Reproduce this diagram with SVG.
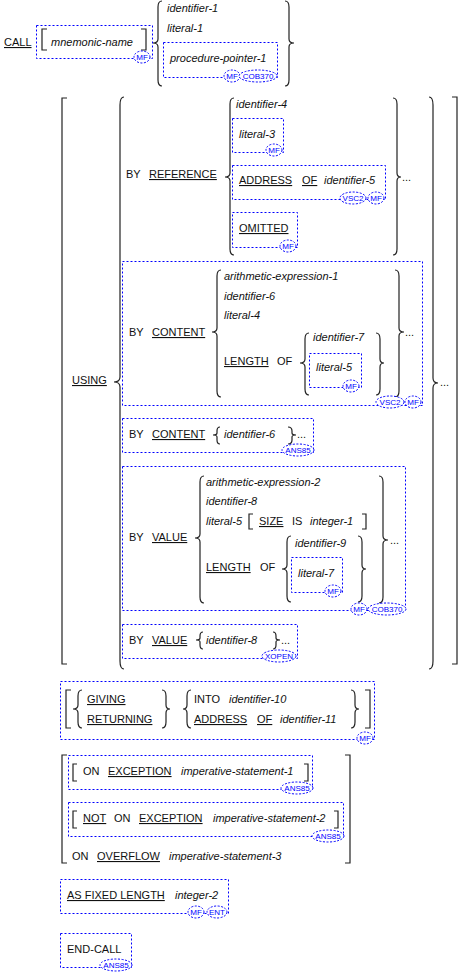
<svg xmlns="http://www.w3.org/2000/svg" width="460" height="974" viewBox="0 0 460 974">
<style>
text{font-family:"Liberation Sans",Arial,sans-serif;font-size:11px;fill:#111}
.i{font-style:italic}
.u{text-decoration:underline}
.box{fill:none;stroke:#0000ff;stroke-width:1;stroke-dasharray:2,2}
.tag{fill:#fff;stroke:#0000ff;stroke-width:1;stroke-dasharray:2,1.5}
.tt{font-size:8px;fill:#0000ff;text-anchor:middle}
.br{fill:none;stroke:#222;stroke-width:1.2}
</style>
<rect width="460" height="974" fill="#fff"/>

<g id="brackets">
<path class="br" d="M162 1 Q158 1 158 7 L158 39 Q158 43 153 43 Q158 43 158 47 L158 80 Q158 86 162 86"/>
<path class="br" d="M285 1 Q289 1 289 7 L289 39 Q289 43 294 43 Q289 43 289 47 L289 80 Q289 86 285 86"/>
<path class="br" d="M47 29 H42 V50 H47"/>
<path class="br" d="M141 29 H146 V50 H141"/>
<path class="br" d="M67 98 H62 V664 H67"/>
<path class="br" d="M452 97 H457 V664 H452"/>
<path class="br" d="M124 97 Q120 97 120 105 L120 377 Q120 382 114 382 Q120 382 120 387 L120 661 Q120 669 124 669"/>
<path class="br" d="M429 97 Q433 97 433 105 L433 378 Q433 383 438 383 Q433 383 433 388 L433 661 Q433 669 429 669"/>
<path class="br" d="M234 98 Q230 98 230 104 L230 173 Q230 177 225 177 Q230 177 230 181 L230 249 Q230 255 234 255"/>
<path class="br" d="M393 98 Q397 98 397 104 L397 173 Q397 177 401 177 Q397 177 397 181 L397 249 Q397 255 393 255"/>
<path class="br" d="M221 270 Q217 270 217 276 L217 328 Q217 332 212 332 Q217 332 217 336 L217 391 Q217 397 221 397"/>
<path class="br" d="M395 270 Q399 270 399 276 L399 328 Q399 332 404 332 Q399 332 399 336 L399 391 Q399 397 395 397"/>
<path class="br" d="M309 333 Q305 333 305 339 L305 359 Q305 363 300 363 Q305 363 305 367 L305 389 Q305 395 309 395"/>
<path class="br" d="M376 333 Q380 333 380 339 L380 359 Q380 363 384 363 Q380 363 380 367 L380 389 Q380 395 376 395"/>
<path class="br" d="M220 427 Q217 427 217 431 L217 433 Q217 435 213 435 Q217 435 217 437 L217 440 Q217 444 220 444"/>
<path class="br" d="M288 427 Q292 427 292 431 L292 433 Q292 435 296 435 Q292 435 292 437 L292 440 Q292 444 288 444"/>
<path class="br" d="M204 476 Q200 476 200 482 L200 534 Q200 538 195 538 Q200 538 200 542 L200 597 Q200 603 204 603"/>
<path class="br" d="M379 476 Q383 476 383 482 L383 536 Q383 540 388 540 Q383 540 383 544 L383 597 Q383 603 379 603"/>
<path class="br" d="M291 536 Q287 536 287 542 L287 565 Q287 569 282 569 Q287 569 287 573 L287 596 Q287 602 291 602"/>
<path class="br" d="M358 536 Q362 536 362 542 L362 565 Q362 569 366 569 Q362 569 362 573 L362 596 Q362 602 358 602"/>
<path class="br" d="M253 514 H249 V529 H253"/>
<path class="br" d="M362 514 H366 V529 H362"/>
<path class="br" d="M203 632 Q200 632 200 636 L200 638 Q200 640 196 640 Q200 640 200 642 L200 645 Q200 649 203 649"/>
<path class="br" d="M273 632 Q276 632 276 636 L276 638 Q276 640 280 640 Q276 640 276 642 L276 645 Q276 649 273 649"/>
<path class="br" d="M71 690 H66 V728 H71"/>
<path class="br" d="M82 690 Q78 690 78 696 L78 705 Q78 709 73 709 Q78 709 78 713 L78 722 Q78 728 82 728"/>
<path class="br" d="M162 690 Q166 690 166 696 L166 705 Q166 709 170 709 Q166 709 166 713 L166 722 Q166 728 162 728"/>
<path class="br" d="M191 690 Q187 690 187 696 L187 705 Q187 709 183 709 Q187 709 187 713 L187 722 Q187 728 191 728"/>
<path class="br" d="M351 690 Q355 690 355 696 L355 705 Q355 709 359 709 Q355 709 355 713 L355 722 Q355 728 351 728"/>
<path class="br" d="M365 690 H370 V728 H365"/>
<path class="br" d="M67 755 H62 V863 H67"/>
<path class="br" d="M345 755 H350 V863 H345"/>
<path class="br" d="M77 764 H73 V781 H77"/>
<path class="br" d="M304 764 H308 V781 H304"/>
<path class="br" d="M77 811 H73 V828 H77"/>
<path class="br" d="M334 811 H338 V828 H334"/>
</g>

<g id="call">
<text x="4" y="46" class="u">CALL</text>
<text x="167" y="12" class="i">identifier-1</text>
<text x="167" y="32" class="i">literal-1</text>
</g>
<g id="mnemonic">
<rect class="box" x="36.5" y="25.5" width="116" height="33"/>
<text x="51" y="46" class="i">mnemonic-name</text>
<ellipse class="tag" cx="142" cy="57" rx="8" ry="6"/><text class="tt" x="142" y="60">MF</text>
</g>
<g id="procptr">
<rect class="box" x="163.5" y="42.5" width="114" height="35"/>
<text x="170" y="62" class="i">procedure-pointer-1</text>
<ellipse class="tag" cx="232" cy="76" rx="8" ry="6"/><text class="tt" x="232" y="79">MF</text>
<ellipse class="tag" cx="258" cy="76" rx="19" ry="6"/><text class="tt" x="258" y="79">COB370</text>
</g>

<g id="using">
<text x="72" y="384" class="u">USING</text>
<text x="440" y="386">...</text>
</g>

<g id="byref">
<text x="126" y="178">BY</text>
<text x="149" y="178" class="u">REFERENCE</text>
<text x="236" y="108" class="i">identifier-4</text>
<text x="402" y="181">...</text>
</g>
<g id="lit3">
<rect class="box" x="232.5" y="118.5" width="51" height="34"/>
<text x="239" y="138" class="i">literal-3</text>
<ellipse class="tag" cx="274" cy="150" rx="8" ry="6"/><text class="tt" x="274" y="153">MF</text>
</g>
<g id="addressof">
<rect class="box" x="232.5" y="165.5" width="153" height="34"/>
<text x="239" y="184" class="u">ADDRESS</text>
<text x="302" y="184" class="u">OF</text>
<text x="324" y="184" class="i">identifier-5</text>
<ellipse class="tag" cx="353" cy="198" rx="13" ry="6"/><text class="tt" x="353" y="201">VSC2</text>
<ellipse class="tag" cx="376" cy="198" rx="8" ry="6"/><text class="tt" x="376" y="201">MF</text>
</g>
<g id="omitted">
<rect class="box" x="232.5" y="212.5" width="65" height="35"/>
<text x="239" y="232" class="u">OMITTED</text>
<ellipse class="tag" cx="288" cy="246" rx="8" ry="6"/><text class="tt" x="288" y="249">MF</text>
</g>

<g id="bycontent">
<rect class="box" x="122.5" y="261.5" width="300" height="144"/>
<text x="129" y="336">BY</text>
<text x="152" y="336" class="u">CONTENT</text>
<text x="224" y="280" class="i">arithmetic-expression-1</text>
<text x="224" y="300" class="i">identifier-6</text>
<text x="224" y="319" class="i">literal-4</text>
<text x="224" y="365" class="u">LENGTH</text>
<text x="277" y="365">OF</text>
<text x="313" y="341" class="i">identifier-7</text>
<text x="405" y="336">...</text>
<ellipse class="tag" cx="390" cy="402" rx="14" ry="6"/><text class="tt" x="390" y="405">VSC2</text>
<ellipse class="tag" cx="413" cy="402" rx="8" ry="6"/><text class="tt" x="413" y="405">MF</text>
</g>
<g id="lit5">
<rect class="box" x="309.5" y="353.5" width="52" height="34"/>
<text x="316" y="371" class="i">literal-5</text>
<ellipse class="tag" cx="351" cy="386" rx="8" ry="6"/><text class="tt" x="351" y="389">MF</text>
</g>

<g id="bycontent2">
<rect class="box" x="122.5" y="418.5" width="191" height="34"/>
<text x="129" y="438">BY</text>
<text x="152" y="438" class="u">CONTENT</text>
<text x="224" y="438" class="i">identifier-6</text>
<text x="297" y="438">...</text>
<ellipse class="tag" cx="298" cy="450" rx="16" ry="6"/><text class="tt" x="298" y="453">ANS85</text>
</g>

<g id="byvalue">
<rect class="box" x="122.5" y="466.5" width="283" height="144"/>
<text x="129" y="541">BY</text>
<text x="152" y="541" class="u">VALUE</text>
<text x="206" y="486" class="i">arithmetic-expression-2</text>
<text x="206" y="505" class="i">identifier-8</text>
<text x="206" y="525" class="i">literal-5</text>
<text x="259" y="525" class="u">SIZE</text>
<text x="292" y="525">IS</text>
<text x="310" y="525" class="i">integer-1</text>
<text x="206" y="571" class="u">LENGTH</text>
<text x="260" y="571">OF</text>
<text x="295" y="547" class="i">identifier-9</text>
<text x="390" y="544">...</text>
<ellipse class="tag" cx="359" cy="609" rx="8" ry="6"/><text class="tt" x="359" y="612">MF</text>
<ellipse class="tag" cx="387" cy="609" rx="19" ry="6"/><text class="tt" x="387" y="612">COB370</text>
</g>
<g id="lit7">
<rect class="box" x="291.5" y="557.5" width="51" height="35"/>
<text x="298" y="577" class="i">literal-7</text>
<ellipse class="tag" cx="333" cy="591" rx="8" ry="6"/><text class="tt" x="333" y="594">MF</text>
</g>

<g id="byvalue2">
<rect class="box" x="122.5" y="624.5" width="175" height="34"/>
<text x="129" y="644">BY</text>
<text x="152" y="644" class="u">VALUE</text>
<text x="206" y="644" class="i">identifier-8</text>
<text x="281" y="644">...</text>
<ellipse class="tag" cx="279" cy="656" rx="17" ry="6"/><text class="tt" x="279" y="659">XOPEN</text>
</g>

<g id="giving">
<rect class="box" x="60.5" y="681.5" width="314" height="58"/>
<text x="87" y="703" class="u">GIVING</text>
<text x="87" y="723" class="u">RETURNING</text>
<text x="194" y="703">INTO</text>
<text x="229" y="703" class="i">identifier-10</text>
<text x="194" y="723" class="u">ADDRESS</text>
<text x="257" y="723" class="u">OF</text>
<text x="280" y="723" class="i">identifier-11</text>
<ellipse class="tag" cx="365" cy="738" rx="8" ry="6"/><text class="tt" x="365" y="741">MF</text>
</g>

<g id="onexception">
<rect class="box" x="68.5" y="755.5" width="244" height="34"/>
<text x="83" y="775">ON</text>
<text x="108" y="775" class="u">EXCEPTION</text>
<text x="181" y="775" class="i">imperative-statement-1</text>
<ellipse class="tag" cx="297" cy="788" rx="16" ry="6"/><text class="tt" x="297" y="791">ANS85</text>
</g>
<g id="notonexception">
<rect class="box" x="68.5" y="802.5" width="275" height="34"/>
<text x="83" y="822" class="u">NOT</text>
<text x="114" y="822">ON</text>
<text x="139" y="822" class="u">EXCEPTION</text>
<text x="213" y="822" class="i">imperative-statement-2</text>
<ellipse class="tag" cx="328" cy="836" rx="16" ry="6"/><text class="tt" x="328" y="839">ANS85</text>
</g>
<g id="onoverflow">
<text x="72" y="860">ON</text>
<text x="97" y="860" class="u">OVERFLOW</text>
<text x="169" y="860" class="i">imperative-statement-3</text>
</g>

<g id="asfixed">
<rect class="box" x="60.5" y="879.5" width="168" height="34"/>
<text x="67" y="899" class="u">AS FIXED LENGTH</text>
<text x="175" y="899" class="i">integer-2</text>
<ellipse class="tag" cx="196" cy="912" rx="8" ry="6"/><text class="tt" x="196" y="915">MF</text>
<ellipse class="tag" cx="217" cy="912" rx="10" ry="6"/><text class="tt" x="217" y="915">ENT</text>
</g>

<g id="endcall">
<rect class="box" x="60.5" y="933.5" width="71" height="34"/>
<text x="67" y="953">END-CALL</text>
<ellipse class="tag" cx="116" cy="965" rx="16" ry="6"/><text class="tt" x="116" y="968">ANS85</text>
</g>
</svg>
